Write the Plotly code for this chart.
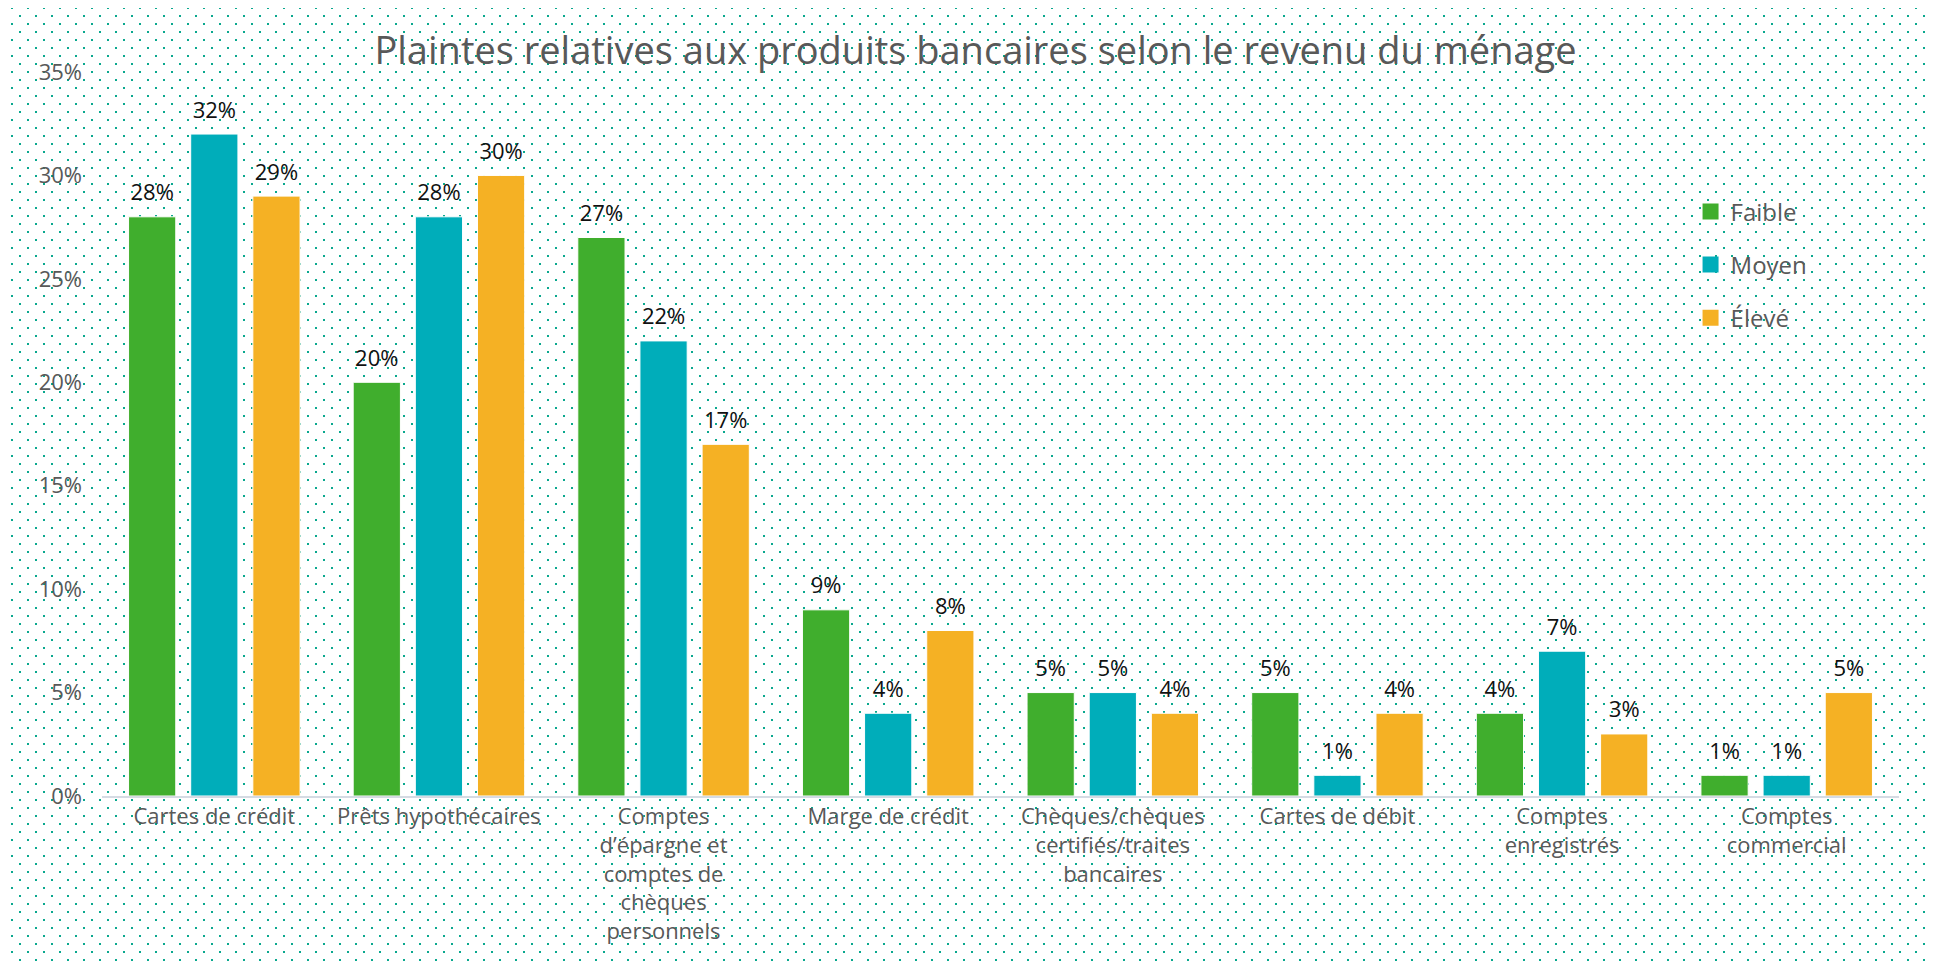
import base64
import plotly.graph_objects as go

categories = [
    "Cartes de crédit",
    "Prêts hypothécaires",
    "Comptes<br>d’épargne et<br>comptes de<br>chèques<br>personnels",
    "Marge de crédit",
    "Chèques/chèques<br>certifiés/traites<br>bancaires",
    "Cartes de débit",
    "Comptes<br>enregistrés",
    "Comptes<br>commercial",
]
faible = [28, 20, 27, 9, 5, 5, 4, 1]
moyen = [32, 28, 22, 4, 5, 1, 7, 1]
eleve = [29, 30, 17, 8, 4, 4, 3, 5]
series_names = ["Faible", "Moyen", "Élevé"]
y_ticks = [0, 5, 10, 15, 20, 25, 30, 35]
y_ticktext = ["0%", "5%", "10%", "15%", "20%", "25%", "30%", "35%"]

colors = ["#40ae2d", "#00adba", "#f5b124"]
W, H = 1935, 966
ML, MR, MT, MB = 94, 44, 64, 178
PW, PH = W - ML - MR, H - MT - MB

FONT = "Open Sans"
GRAY = "#595959"

fig = go.Figure()
for name, vals, col in zip(series_names, [faible, moyen, eleve], colors):
    fig.add_trace(go.Bar(
        x=categories, y=vals, name=name, offsetgroup=name,
        marker=dict(color=col, line=dict(color="white", width=1)),
        showlegend=False, hoverinfo="skip",
    ))
for name, vals, col in zip(series_names, [faible, moyen, eleve], colors):
    fig.add_trace(go.Scatter(
        x=categories, y=vals, mode="markers+text", offsetgroup=name,
        text=[f"{v}%" for v in vals], textposition="top center",
        textfont=dict(family=FONT, size=22, color="#111111"),
        marker=dict(size=16, opacity=0, color=col),
        showlegend=False, hoverinfo="skip", cliponaxis=False,
    ))
for name, col in zip(series_names, colors):
    fig.add_trace(go.Scatter(
        x=[None], y=[None], mode="markers", name=name, legendgroup=name,
        marker=dict(symbol="square", size=19, color=col),
    ))

svg = (
    f'<svg xmlns="http://www.w3.org/2000/svg" width="{W}" height="{H}" viewBox="0 0 {W} {H}">'
    '<defs><pattern id="p" width="16" height="16" patternUnits="userSpaceOnUse">'
    '<rect x="11" y="7" width="2" height="2" fill="#0aa88e"/>'
    '<rect x="3" y="15" width="2" height="2" fill="#0aa88e"/>'
    '<rect x="3" y="-1" width="2" height="2" fill="#0aa88e"/>'
    '</pattern></defs><rect width="100%" height="100%" fill="url(#p)"/></svg>'
)
src = "data:image/svg+xml;base64," + base64.b64encode(svg.encode()).decode()

fig.update_layout(
    width=W, height=H,
    margin=dict(l=ML, r=MR, t=MT, b=MB, autoexpand=False),
    paper_bgcolor="white", plot_bgcolor="rgba(0,0,0,0)",
    barmode="group", bargap=0.17, bargroupgap=0.24,
    scattermode="group", scattergap=0.17,
    title=dict(text="Plaintes relatives aux produits bancaires selon le revenu du ménage",
               x=0.5, xref="container", xanchor="center", y=0.956, yanchor="middle",
               font=dict(family=FONT, size=38, color=GRAY)),
    font=dict(family=FONT, size=22, color=GRAY),
    legend=dict(x=0.884, y=0.838, xanchor="left", yanchor="top",
                bgcolor="rgba(0,0,0,0)", font=dict(family=FONT, size=24, color=GRAY),
                tracegroupgap=19, itemsizing="trace"),
    images=[dict(source=src, xref="paper", yref="paper",
                 x=-ML / PW, y=1 + MT / PH, sizex=W / PW, sizey=H / PH,
                 xanchor="left", yanchor="top", sizing="stretch", layer="below")],
    showlegend=True,
)
fig.update_xaxes(showline=True, linecolor="#d5dbe3", linewidth=2, ticks="",
                 showgrid=False, tickfont=dict(family=FONT, size=22, color=GRAY))
fig.update_yaxes(range=[0, 35], tickvals=y_ticks, ticktext=y_ticktext, showgrid=False,
                 zeroline=False, showline=False, ticklabelstandoff=19,
                 tickfont=dict(family=FONT, size=22, color=GRAY))

fig.write_html("out.html")
